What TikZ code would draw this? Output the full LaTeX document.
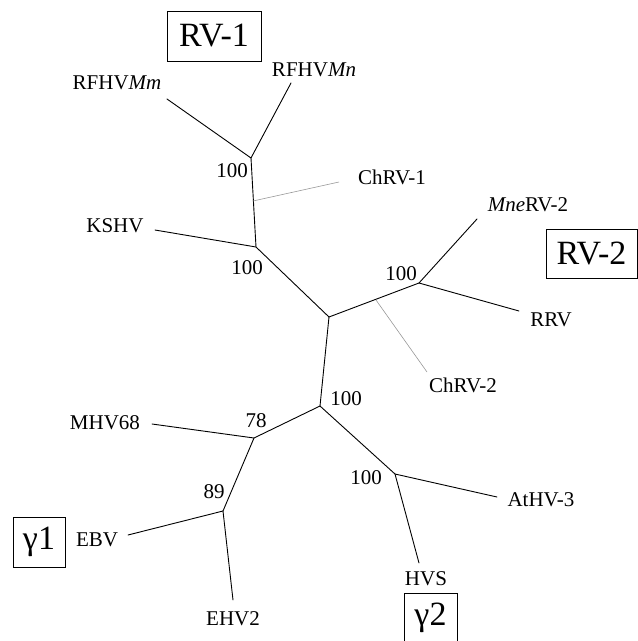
\documentclass[tikz,border=0pt]{standalone}
\usepackage{fontspec}
\setmainfont{Liberation Serif}
\begin{document}
\begin{tikzpicture}[x=1pt,y=-1pt,
  branch/.style={line width=0.9pt, line cap=round},
  faint/.style={line width=0.6pt, gray!80},
  lbl/.style={inner sep=0pt, text depth=0pt, font=\fontsize{21}{24}\selectfont},
  boot/.style={inner sep=0pt, text depth=0pt, font=\fontsize{21}{24}\selectfont},
  grp/.style={draw, line width=0.7pt, inner sep=0pt, font=\fontsize{34}{38}\selectfont}]
\useasboundingbox (0,0) rectangle (638,641);
% internal vertices
\coordinate (A) at (251,158);
\coordinate (B) at (256,247);
\coordinate (C) at (329,317);
\coordinate (D) at (419,283);
\coordinate (E) at (320,406);
\coordinate (F) at (254,438);
\coordinate (G) at (223,511);
\coordinate (H) at (395,474);
\coordinate (ch1) at (253,201);
\coordinate (ch2) at (376,300);
% tips
\coordinate (tMm) at (167,99);
\coordinate (tMn) at (291,83);
\coordinate (tCh1) at (339,182);
\coordinate (tKS) at (155,230);
\coordinate (tMne) at (477,219);
\coordinate (tRRV) at (519,311);
\coordinate (tCh2) at (427,372);
\coordinate (tMHV) at (152,424);
\coordinate (tEBV) at (128,535);
\coordinate (tEHV) at (233,600);
\coordinate (tAt) at (497,497);
\coordinate (tHVS) at (419,563);
% branches
\draw[branch] (tMm) -- (A) -- (tMn);
\draw[branch] (A) -- (B);
\draw[branch] (tKS) -- (B) -- (C);
\draw[branch] (C) -- (D) -- (tMne);
\draw[branch] (D) -- (tRRV);
\draw[branch] (C) -- (E) -- (F) -- (tMHV);
\draw[branch] (F) -- (G) -- (tEBV);
\draw[branch] (G) -- (tEHV);
\draw[branch] (E) -- (H) -- (tAt);
\draw[branch] (H) -- (tHVS);
\draw[faint] (ch1) -- (tCh1);
\draw[faint] (ch2) -- (tCh2);
% tip labels
\node[lbl] (nMm) at (117,83) {RFHV\textit{Mm}};
\node[lbl] (nMn) at (314,70) {RFHV\textit{Mn}};
\node[lbl] (nCh1) at (392,177) {ChRV-1};
\node[lbl] (nKS) at (115,226) {KSHV};
\node[lbl] (nMne) at (528,205) {\textit{Mne}RV-2};
\node[lbl] (nRRV) at (551,320) {RRV};
\node[lbl] (nCh2) at (463,385) {ChRV-2};
\node[lbl] (nMHV) at (105,423) {MHV68};
\node[lbl] (nEBV) at (97,540) {EBV};
\node[lbl] (nEHV) at (233,619) {EHV2};
\node[lbl] (nHVS) at (426,579) {HVS};
\node[lbl] (nAt) at (541,500) {AtHV-3};
% bootstrap values
\node[boot] (bA) at (232,171) {100};
\node[boot] (bB) at (247,268) {100};
\node[boot] (bD) at (401,274) {100};
\node[boot] (bE) at (346,399) {100};
\node[boot] (bF) at (256,421) {78};
\node[boot] (bG) at (214,492) {89};
\node[boot] (bH) at (366,478) {100};
% group boxes
\node[grp, minimum width=94pt, minimum height=50pt] (gRV1) at (214,36) {RV-1};
\node[grp, minimum width=91pt, minimum height=49pt] (gRV2) at (591.5,253.5) {RV-2};
\node[grp, minimum width=52pt, minimum height=50pt] (gG1) at (39,542) {γ1};
\node[grp, minimum width=53pt, minimum height=50pt] (gG2) at (430.5,618) {γ2};
\end{tikzpicture}
\end{document}
